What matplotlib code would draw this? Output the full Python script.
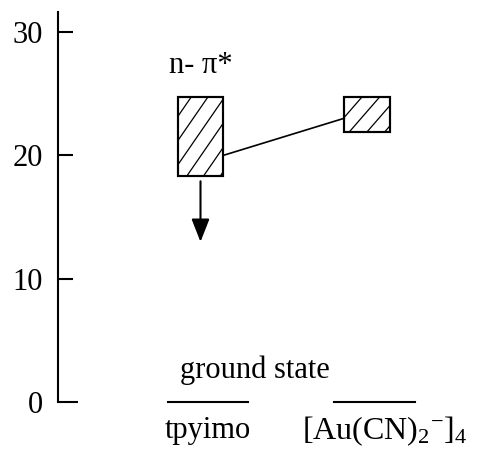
import numpy as np
import matplotlib.pyplot as plt
from matplotlib.patches import Rectangle

plt.rcParams['font.family'] = ['Liberation Serif', 'DejaVu Serif']
plt.rcParams['mathtext.fontset'] = 'custom'
plt.rcParams['mathtext.rm'] = 'Liberation Serif'
plt.rcParams['mathtext.it'] = 'Liberation Serif:italic'

# data
categories = ['tpyimo', r'[Au(CN)$_2$$^{-}$]$_4$']
ground = [0.0, 0.0]
state_low = [18.3, 21.9]
state_high = [24.7, 24.7]
link_y = [20.0, 23.0]          # connecting line, right edge of box 1 -> left edge of box 2
arrow_y = [17.9, 13.0]         # decay arrow below tpyimo box
state_label = 'n- π*'
yticks = [0, 10, 20, 30]

fig = plt.figure(figsize=(4.88, 4.49), dpi=100)
ax = fig.add_axes([0.1189, 0.1036, 0.881, 0.8697])
ax.set_xlim(0.1, 2.68)
ax.set_ylim(0, 31.6)

# pixels per data unit, only for the hand drawn hatching
px_x = 0.881 * 488 / (2.68 - 0.1)
px_y = 0.8697 * 449 / 31.6

xs = [1, 2]
box_w = 0.275
box_off = -0.045
# hatch: slope (px), spacing (px), y where one line meets the left edge
hatch = [(1.45, 16.7, 23.12), (1.15, 17.7, 23.07)]

for x, lo, hi, (s, sp, y0) in zip(xs, state_low, state_high, hatch):
    left = x + box_off - box_w / 2
    r = Rectangle((left, lo), box_w, hi - lo, facecolor='white',
                  edgecolor='black', lw=1.5, zorder=2)
    ax.add_patch(r)
    slope = s * px_x / px_y
    xx = np.array([left - 1, left + 1])
    for k in range(-8, 9):
        x_shift = k * sp / px_x
        ln, = ax.plot(xx, y0 + slope * (xx - left - x_shift), color='black',
                      lw=0.9, zorder=2.5)
        ln.set_clip_path(r)
    # outline on top of the hatching
    ax.add_patch(Rectangle((left, lo), box_w, hi - lo, facecolor='none',
                           edgecolor='black', lw=1.5, zorder=3))

# ground state levels
for x, g in zip(xs, ground):
    ax.plot([x - 0.243, x + 0.243], [g, g], color='black', lw=1.5, clip_on=False)

# link between the two excited levels
ax.plot([xs[0] + box_off + box_w / 2, xs[1] + box_off - box_w / 2], link_y,
        color='black', lw=1.2)

# decay arrow
ax.annotate('', xy=(xs[0] + box_off, arrow_y[1]), xytext=(xs[0] + box_off, arrow_y[0]),
            arrowprops=dict(arrowstyle='-|>,head_length=1.4,head_width=0.55',
                            mutation_scale=10, color='black', lw=1.5,
                            shrinkA=0, shrinkB=0))

ax.text(xs[0] + box_off, 27.3, state_label, ha='center', va='center', fontsize=22)
ax.text(1.28, 2.63, 'ground state', ha='center', va='center', fontsize=22)
ax.text(xs[0], -2.3, categories[0], ha='center', va='center', fontsize=22, clip_on=False)
ax.text(2.06, -2.3, categories[1], ha='center', va='center', fontsize=23, clip_on=False)

for s in ['top', 'right', 'bottom']:
    ax.spines[s].set_visible(False)
ax.spines['left'].set_linewidth(1.5)
ax.set_xticks([])
ax.set_yticks(yticks)
ax.tick_params(axis='y', direction='in', length=11, width=1.5, pad=11, labelsize=22)
ax.yaxis.get_major_ticks()[0].tick1line.set_markersize(14.5)

fig.savefig('out.png', dpi=100)
